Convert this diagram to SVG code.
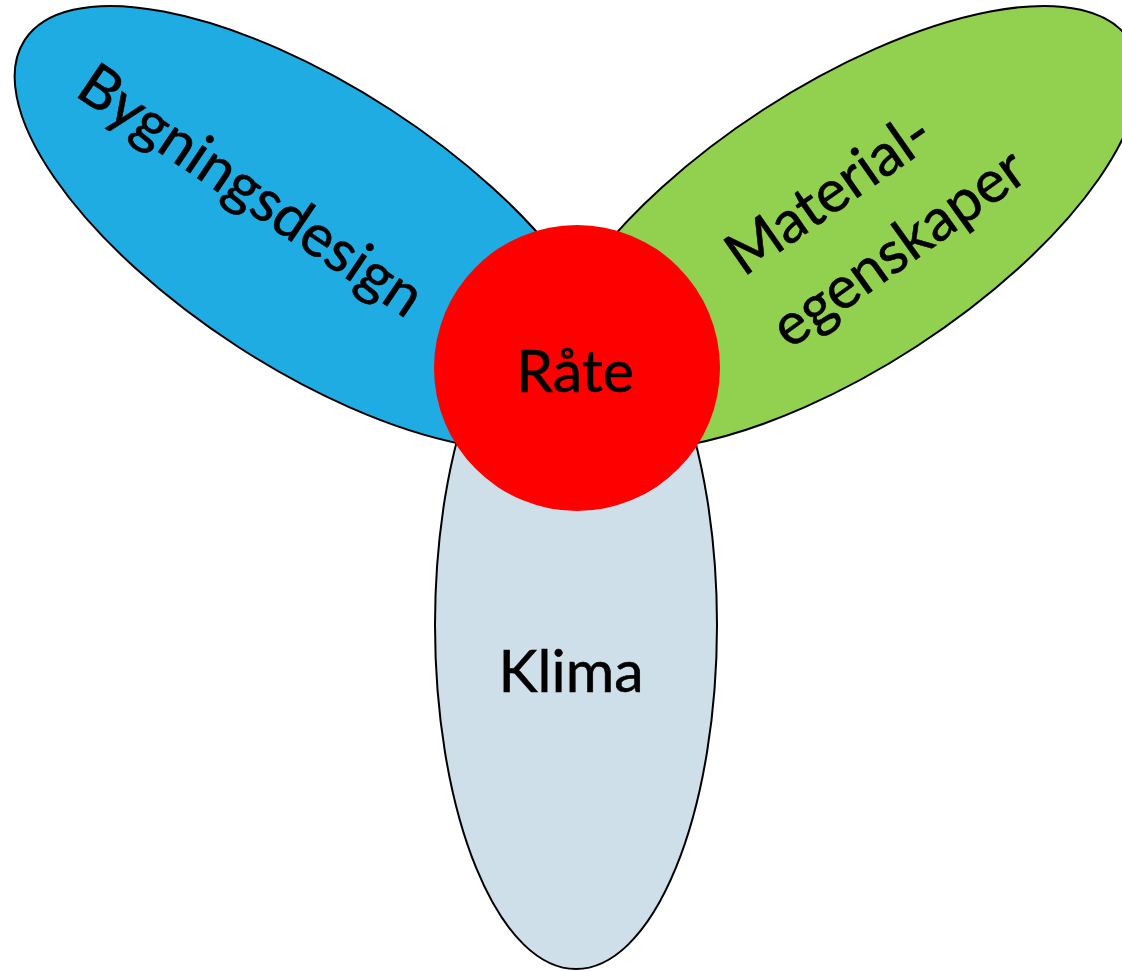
<svg xmlns="http://www.w3.org/2000/svg" width="1122" height="972" viewBox="0 0 1122 972">
<style>
.petal{stroke:#000;stroke-width:2}
.lbl{font-family:Lato,"Open Sans","Liberation Sans",sans-serif;font-size:59px;fill:#000;stroke:#000;stroke-width:0.6;text-anchor:middle}
</style>
<rect width="1122" height="972" fill="#fff"/>
<g id="bygningsdesign">
<ellipse class="petal" cx="314" cy="228" rx="345" ry="141" transform="rotate(33 314 228)" fill="#1EACE3"/>
<text class="lbl" transform="translate(240 207) rotate(34)">Bygningsdesign</text>
</g>
<g id="materialegenskaper">
<ellipse class="petal" cx="840" cy="228" rx="345" ry="141" transform="rotate(-33 840 228)" fill="#92D050"/>
<text class="lbl" transform="translate(840 210) rotate(-35)">Material-</text>
<text class="lbl" transform="translate(910 264) rotate(-35.5)">egenskaper</text>
</g>
<g id="klima">
<ellipse class="petal" cx="576" cy="625" rx="141" ry="344" fill="#CEDFEA"/>
<text class="lbl" x="571" y="692">Klima</text>
</g>
<g id="rate">
<circle cx="577" cy="368" r="143" fill="#FF0000"/>
<text class="lbl" x="575" y="392">Råte</text>
</g>
<g id="connectors"/>
</svg>
